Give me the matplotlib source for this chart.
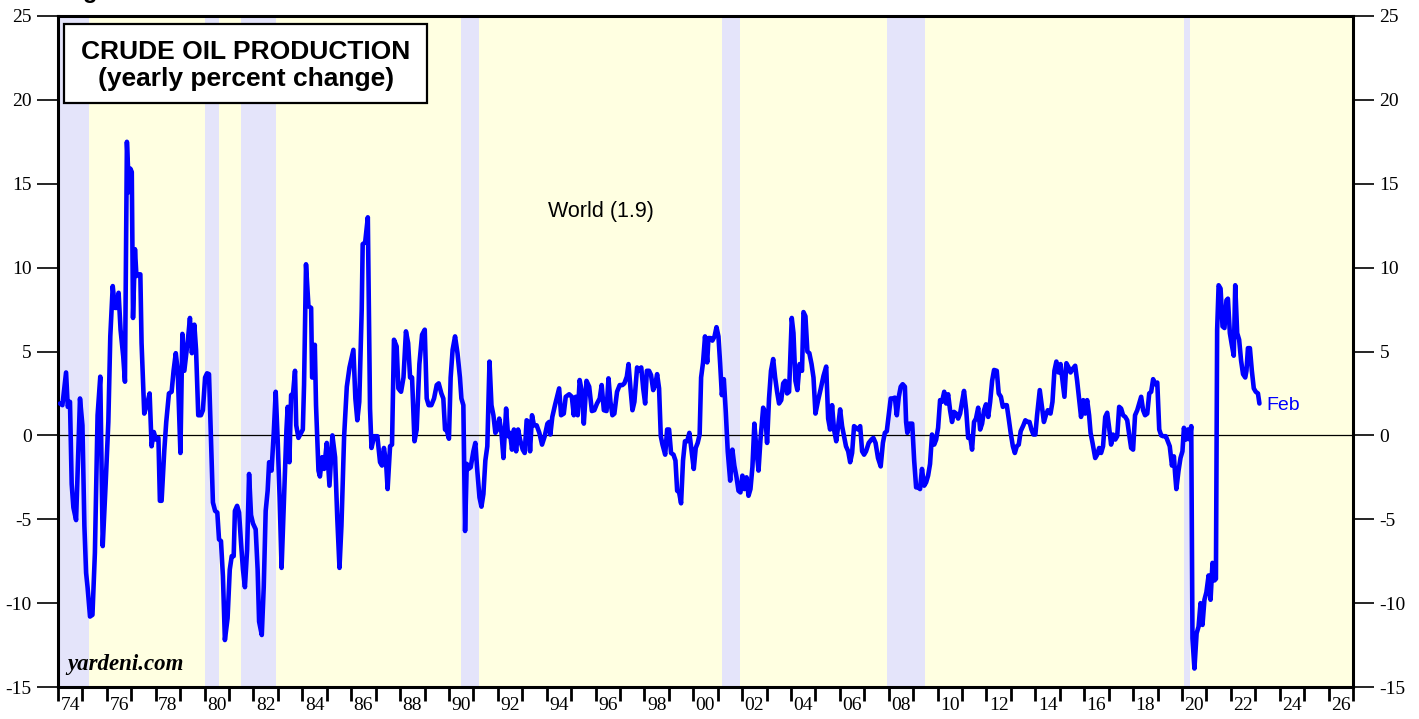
import matplotlib
matplotlib.use("Agg")
import matplotlib.pyplot as plt
from matplotlib.patches import Rectangle
from matplotlib.ticker import FixedLocator, NullFormatter

# ---------------- data (decimal years, yearly % change) ----------------
dates_70s = [1974.08, 1974.18, 1974.33, 1974.40, 1974.49, 1974.56, 1974.63, 1974.74, 1974.90, 1975.00,
             1975.08, 1975.15, 1975.21, 1975.31, 1975.41, 1975.51, 1975.62, 1975.73, 1975.83, 1975.95,
             1976.06, 1976.14, 1976.24, 1976.33, 1976.41, 1976.48, 1976.56, 1976.67, 1976.74, 1976.82,
             1976.91, 1976.96, 1977.02, 1977.07, 1977.15, 1977.21, 1977.26, 1977.37, 1977.42, 1977.53,
             1977.67, 1977.75, 1977.83, 1977.92, 1978.01, 1978.11, 1978.17, 1978.24, 1978.35, 1978.43,
             1978.54, 1978.65, 1978.73, 1978.82, 1978.90, 1979.01, 1979.09, 1979.17, 1979.25, 1979.33,
             1979.40, 1979.48, 1979.58, 1979.65, 1979.74, 1979.85, 1979.93]
values_70s = [1.9, 1.8, 3.75, 1.7, 2.0, -2.9, -4.3, -5.05, 2.2, 0.6,
              -5.4, -8.2, -9.05, -10.8, -10.7, -7.0, 1.2, 3.5, -6.6, -2.9,
              0.8, 5.9, 8.9, 7.6, 7.6, 8.5, 6.3, 4.7, 3.2, 17.5,
              14.5, 15.9, 15.7, 7.0, 11.1, 9.5, 9.6, 9.6, 5.5, 1.3,
              2.0, 2.5, -0.65, 0.2, -0.25, -0.15, -3.9, -3.9, -0.9, 0.8,
              2.5, 2.6, 3.85, 4.9, 3.85, -1.05, 6.05, 3.85, 4.9, 5.9,
              7.0, 4.9, 6.6, 5.1, 1.2, 1.2, 1.5]

dates_80s = [1980.02, 1980.10, 1980.18, 1980.26, 1980.34, 1980.43, 1980.52, 1980.59, 1980.67, 1980.75,
             1980.83, 1980.94, 1981.03, 1981.11, 1981.19, 1981.24, 1981.33, 1981.41, 1981.49, 1981.57,
             1981.65, 1981.74, 1981.82, 1981.90, 1981.98, 1982.09, 1982.17, 1982.23, 1982.34, 1982.42,
             1982.50, 1982.58, 1982.64, 1982.74, 1982.83, 1982.91, 1982.99, 1983.07, 1983.15, 1983.26,
             1983.35, 1983.40, 1983.47, 1983.54, 1983.62, 1983.70, 1983.75, 1983.84, 1983.95, 1984.02,
             1984.07, 1984.15, 1984.25, 1984.36, 1984.40, 1984.45, 1984.51, 1984.56, 1984.66, 1984.72,
             1984.81, 1984.89, 1985.00, 1985.11, 1985.23, 1985.34, 1985.43, 1985.52, 1985.60, 1985.71,
             1985.82, 1985.93, 1986.09, 1986.17, 1986.25, 1986.33, 1986.43, 1986.47, 1986.57, 1986.68,
             1986.77, 1986.83, 1986.94, 1987.07, 1987.18, 1987.26, 1987.34, 1987.43, 1987.49, 1987.59,
             1987.67, 1987.75, 1987.86, 1987.93, 1988.04, 1988.14, 1988.24, 1988.33, 1988.41, 1988.49,
             1988.59, 1988.68, 1988.79, 1988.90, 1989.01, 1989.09, 1989.17, 1989.28, 1989.39, 1989.50,
             1989.58, 1989.69, 1989.77, 1989.84, 1989.92]
values_80s = [3.45, 3.7, 3.65, -0.25, -4.0, -4.5, -4.6, -6.2, -6.3, -8.4,
              -12.2, -10.9, -8.0, -7.2, -7.2, -4.5, -4.2, -4.6, -6.4, -8.0,
              -9.05, -6.8, -2.3, -4.75, -5.25, -5.6, -8.0, -11.1, -11.9, -9.05,
              -4.5, -3.3, -1.6, -2.1, 0.15, 2.6, -0.25, -3.7, -7.9, -3.3,
              0.35, 1.7, -1.6, 2.4, 2.5, 3.85, 0.6, -0.15, 0.15, 0.35,
              3.0, 10.2, 7.7, 7.6, 3.45, 3.45, 5.4, 1.8, -2.1, -2.45,
              -1.3, -2.0, -0.45, -3.0, 0.0, -1.3, -4.95, -7.9, -5.4, -0.05,
              2.9, 4.05, 5.1, 2.2, 0.9, 2.0, 7.5, 11.4, 11.5, 13.0,
              1.6, -0.75, -0.05, -0.05, -1.6, -1.8, -0.75, -1.7, -3.2, -0.65,
              -0.55, 5.7, 5.3, 2.8, 2.6, 3.45, 6.2, 5.5, 3.45, 3.45,
              -0.35, 0.35, 4.25, 6.0, 6.3, 2.2, 1.8, 1.8, 2.2, 3.0,
              3.1, 2.5, 2.2, 0.35, 0.25]

dates_90s = [1990.00, 1990.07, 1990.15, 1990.25, 1990.35, 1990.45, 1990.51, 1990.59, 1990.66, 1990.73,
             1990.80, 1990.89, 1991.00, 1991.08, 1991.16, 1991.25, 1991.33, 1991.41, 1991.49, 1991.57,
             1991.66, 1991.74, 1991.82, 1991.90, 1991.98, 1992.06, 1992.15, 1992.23, 1992.34, 1992.42,
             1992.50, 1992.58, 1992.66, 1992.75, 1992.83, 1992.91, 1993.02, 1993.10, 1993.18, 1993.26,
             1993.32, 1993.40, 1993.48, 1993.59, 1993.70, 1993.81, 1993.92, 1994.03, 1994.10, 1994.15,
             1994.23, 1994.34, 1994.51, 1994.59, 1994.70, 1994.78, 1994.92, 1995.03, 1995.11, 1995.19,
             1995.27, 1995.35, 1995.44, 1995.52, 1995.63, 1995.74, 1995.85, 1995.95, 1996.06, 1996.17,
             1996.25, 1996.34, 1996.45, 1996.53, 1996.61, 1996.69, 1996.77, 1996.88, 1996.99, 1997.10,
             1997.18, 1997.28, 1997.35, 1997.43, 1997.51, 1997.59, 1997.70, 1997.78, 1997.87, 1997.95,
             1998.03, 1998.10, 1998.19, 1998.27, 1998.36, 1998.44, 1998.52, 1998.60, 1998.67, 1998.74,
             1998.85, 1998.93, 1999.01, 1999.09, 1999.19, 1999.27, 1999.34, 1999.42, 1999.50, 1999.58,
             1999.66, 1999.75, 1999.84, 1999.94]
values_90s = [-0.2, 3.45, 5.1, 5.9, 4.9, 3.45, 2.2, 1.8, -5.7, -1.7,
              -2.0, -1.9, -0.95, -0.45, -2.1, -3.7, -4.25, -3.5, -1.5, -0.65,
              4.4, 1.8, 1.2, 0.15, 0.35, 1.0, 0.15, -1.35, 1.6, -0.05,
              0.15, -0.85, 0.35, -0.95, 0.35, -0.25, -0.85, -1.05, 0.9, 0.8,
              -0.95, 1.2, 0.6, 0.6, 0.15, -0.55, -0.05, 0.7, 0.8, 0.05,
              1.1, 1.8, 2.8, 1.2, 1.3, 2.3, 2.45, 2.3, 1.2, 2.3,
              1.2, 3.3, 2.6, 0.7, 3.25, 2.9, 1.45, 1.5, 1.9, 2.2,
              3.0, 1.5, 1.45, 3.4, 2.0, 1.2, 1.3, 2.6, 3.0, 3.0,
              3.1, 3.5, 4.25, 2.8, 1.5, 2.0, 4.05, 3.85, 4.05, 2.8,
              1.9, 3.85, 3.85, 3.6, 2.7, 3.0, 3.65, 2.8, -0.05, -0.55,
              -1.15, 0.35, 0.35, -1.05, -1.15, -1.5, -3.3, -3.4, -4.05, -1.5,
              -0.35, -0.35, 0.15, -1.05]

dates_00s = [2000.02, 2000.10, 2000.18, 2000.26, 2000.32, 2000.40, 2000.48, 2000.57, 2000.62, 2000.70,
             2000.78, 2000.87, 2000.95, 2001.03, 2001.10, 2001.17, 2001.25, 2001.33, 2001.41, 2001.51,
             2001.60, 2001.68, 2001.77, 2001.85, 2001.93, 2002.01, 2002.09, 2002.18, 2002.26, 2002.34,
             2002.42, 2002.50, 2002.59, 2002.67, 2002.75, 2002.86, 2002.94, 2003.02, 2003.10, 2003.18,
             2003.27, 2003.35, 2003.43, 2003.51, 2003.60, 2003.68, 2003.76, 2003.84, 2003.92, 2004.03,
             2004.10, 2004.18, 2004.26, 2004.35, 2004.45, 2004.51, 2004.59, 2004.67, 2004.75, 2004.84,
             2004.92, 2005.00, 2005.11, 2005.22, 2005.33, 2005.44, 2005.52, 2005.60, 2005.68, 2005.76,
             2005.85, 2005.93, 2006.01, 2006.09, 2006.17, 2006.25, 2006.34, 2006.42, 2006.50, 2006.58,
             2006.66, 2006.74, 2006.83, 2006.91, 2006.99, 2007.07, 2007.18, 2007.29, 2007.37, 2007.46,
             2007.56, 2007.67, 2007.76, 2007.84, 2007.92, 2008.00, 2008.08, 2008.16, 2008.25, 2008.33,
             2008.41, 2008.49, 2008.57, 2008.66, 2008.71, 2008.76, 2008.85, 2008.96, 2009.04, 2009.12,
             2009.20, 2009.28, 2009.36, 2009.45, 2009.53, 2009.61, 2009.69, 2009.77, 2009.86, 2009.94]
values_00s = [-2.0, -0.75, -0.45, 0.05, 3.45, 4.35, 5.9, 4.35, 5.8, 5.8,
              5.65, 5.9, 6.45, 5.9, 4.25, 2.4, 3.35, 1.4, -0.95, -2.7,
              -0.85, -1.8, -2.5, -3.3, -3.4, -2.4, -3.2, -2.5, -3.6, -3.2,
              -1.9, 0.7, -0.95, -2.1, -0.25, 1.65, 1.4, -0.45, 2.2, 3.85,
              4.55, 3.45, 2.6, 1.9, 2.1, 3.1, 3.25, 2.5, 2.6, 7.0,
              6.1, 3.25, 2.7, 4.25, 3.85, 7.35, 7.1, 5.0, 4.9, 4.25,
              3.45, 1.3, 2.1, 2.8, 3.55, 4.1, 1.0, 0.35, 1.8, 0.35,
              -0.35, 0.55, 1.55, 0.55, -0.05, -0.65, -0.95, -1.6, -1.05, 0.55,
              0.45, 0.35, 0.55, -0.95, -1.15, -0.95, -0.45, -0.25, -0.15, -0.45,
              -1.35, -1.85, -0.45, 0.15, 0.25, 1.2, 2.2, 2.2, 2.25, 1.2,
              2.3, 2.9, 3.05, 2.9, 0.8, 0.15, 0.7, 0.7, -1.5, -3.1,
              -3.1, -3.2, -2.0, -3.0, -2.8, -2.4, -1.7, 0.05, -0.55, -0.25]

dates_10s = [2010.02, 2010.10, 2010.18, 2010.27, 2010.35, 2010.43, 2010.51, 2010.59, 2010.67, 2010.76,
             2010.84, 2010.92, 2011.00, 2011.08, 2011.17, 2011.25, 2011.33, 2011.41, 2011.49, 2011.57,
             2011.66, 2011.74, 2011.82, 2011.90, 2011.98, 2012.07, 2012.15, 2012.23, 2012.31, 2012.42,
             2012.50, 2012.59, 2012.67, 2012.75, 2012.83, 2012.91, 2012.99, 2013.08, 2013.16, 2013.24,
             2013.32, 2013.40, 2013.51, 2013.59, 2013.68, 2013.76, 2013.84, 2013.92, 2014.00, 2014.07,
             2014.18, 2014.26, 2014.35, 2014.43, 2014.51, 2014.62, 2014.70, 2014.78, 2014.86, 2014.95,
             2015.03, 2015.11, 2015.19, 2015.27, 2015.36, 2015.44, 2015.52, 2015.63, 2015.71, 2015.79,
             2015.87, 2015.96, 2016.04, 2016.12, 2016.20, 2016.26, 2016.34, 2016.45, 2016.53, 2016.61,
             2016.69, 2016.77, 2016.86, 2016.94, 2017.02, 2017.10, 2017.18, 2017.27, 2017.35, 2017.43,
             2017.51, 2017.59, 2017.68, 2017.76, 2017.84, 2017.92, 2018.00, 2018.08, 2018.17, 2018.25,
             2018.33, 2018.41, 2018.49, 2018.58, 2018.66, 2018.74, 2018.82, 2018.90, 2018.99, 2019.07,
             2019.15, 2019.23, 2019.34, 2019.42, 2019.50, 2019.59, 2019.67, 2019.72, 2019.77, 2019.86,
             2019.94]
values_10s = [0.45, 2.1, 2.0, 2.6, 1.9, 2.45, 1.5, 0.8, 1.4, 1.3,
              1.0, 1.3, 2.0, 2.65, 1.5, -0.15, -0.05, -0.85, 0.8, 1.0,
              1.65, 0.35, 0.7, 1.5, 1.85, 1.1, 2.0, 3.25, 3.9, 3.85,
              2.5, 2.3, 1.7, 1.8, 1.8, 1.0, 0.15, -0.65, -1.05, -0.65,
              -0.55, 0.25, 0.6, 0.9, 0.8, 0.8, 0.35, 0.05, 0.05, 1.2,
              2.7, 1.8, 0.8, 1.2, 1.5, 1.3, 2.0, 3.85, 4.4, 3.75,
              4.25, 3.25, 2.3, 4.3, 4.05, 3.75, 3.95, 4.15, 3.25, 2.2,
              1.1, 2.1, 1.3, 2.1, 1.2, 0.15, -0.45, -1.35, -1.15, -0.75,
              -1.05, -0.65, 1.1, 1.35, 0.45, -0.55, 0.05, -0.25, -0.05, 1.7,
              1.6, 1.2, 1.1, 0.9, 0.05, -0.75, -0.85, 1.2, 1.5, 1.9,
              2.3, 1.5, 1.2, 1.3, 2.5, 2.6, 3.35, 3.05, 3.15, 0.35,
              0.0, -0.05, -0.05, -0.35, -0.65, -1.8, -1.25, -2.3, -3.2, -2.1,
              -1.35]

dates_20s = [2020.02, 2020.08, 2020.16, 2020.24, 2020.32, 2020.38, 2020.43, 2020.51, 2020.60, 2020.68,
             2020.76, 2020.84, 2020.92, 2021.00, 2021.09, 2021.17, 2021.25, 2021.33, 2021.39, 2021.44,
             2021.50, 2021.58, 2021.66, 2021.74, 2021.82, 2021.88, 2021.96, 2022.04, 2022.12, 2022.18,
             2022.26, 2022.34, 2022.42, 2022.50, 2022.59, 2022.64, 2022.70, 2022.78, 2022.86, 2022.94,
             2023.02, 2023.11, 2023.17]
values_20s = [-0.95, 0.45, -0.25, 0.35, -0.25, 0.55, -12.1, -13.9, -11.8, -11.4,
              -10.0, -11.3, -9.8, -9.35, -8.35, -9.8, -7.6, -8.65, -8.55, 6.3,
              8.95, 8.75, 6.5, 6.4, 8.05, 8.15, 6.1, 5.4, 4.75, 8.95,
              6.1, 5.7, 4.45, 3.65, 3.45, 3.85, 5.2, 5.2, 3.85, 2.8,
              2.6, 2.5, 1.9]

recession_starts = [1973.83, 1980.0, 1981.5, 1990.5, 2001.17, 2007.92, 2020.08]
recession_ends = [1975.25, 1980.58, 1982.92, 1991.25, 2001.92, 2009.5, 2020.33]

year_ticks = list(range(1974, 2028))
label_years = list(range(1974, 2027, 2))
tick_labels = [f"{y % 100:02d}" for y in label_years]
y_ticks = [-15, -10, -5, 0, 5, 10, 15, 20, 25]

title_lines = ["CRUDE OIL PRODUCTION", "(yearly percent change)"]
series_label = "World (1.9)"
end_label = "Feb"
source_label = "yardeni.com"
figure_label = "Figure 1."

# ---------------- plot ----------------
dates = dates_70s + dates_80s + dates_90s + dates_00s + dates_10s + dates_20s
values = values_70s + values_80s + values_90s + values_00s + values_10s + values_20s

SANS = ["Liberation Sans", "DejaVu Sans"]
SERIF = ["Liberation Serif", "DejaVu Serif"]

fig = plt.figure(figsize=(14.19, 7.19), dpi=100)
fig.patch.set_facecolor("white")
ax = fig.add_axes([58 / 1419, 32 / 719, 1295 / 1419, 671 / 719])
ax.set_xlim(1974, 2027)
ax.set_ylim(-15, 25)
ax.set_facecolor("#FFFFE1")

for s, e in zip(recession_starts, recession_ends):
    ax.axvspan(max(s, 1974), e, color="#E4E4FA", lw=0, zorder=0.5)

ax.axhline(0, color="black", lw=0.9, zorder=1)
ax.plot(dates, values, color="#0000FF", lw=3.3, solid_joinstyle="round",
        solid_capstyle="round", zorder=3)

# x axis: ticks every year, labels centred in even years
ax.xaxis.set_major_locator(FixedLocator(year_ticks))
ax.xaxis.set_major_formatter(NullFormatter())
ax.xaxis.set_minor_locator(FixedLocator([y + 0.5 for y in label_years]))
ax.set_xticklabels(tick_labels, minor=True)
ax.tick_params(axis="x", which="major", direction="out", length=10, width=2, color="black")
ax.tick_params(axis="x", which="minor", length=0, pad=7, labelsize=14)
for lab in ax.get_xticklabels(minor=True):
    lab.set_fontfamily(SERIF)

ax.set_yticks(y_ticks)
ax.set_yticklabels([str(v) for v in y_ticks])
ax.tick_params(axis="y", which="major", direction="out", length=15, width=1.2,
               left=True, right=True, labelleft=True, labelright=True,
               labelsize=14, pad=4)
for t in ax.yaxis.get_major_ticks():
    t.label1.set_fontfamily(SERIF)
    t.label2.set_fontfamily(SERIF)

for sp in ax.spines.values():
    sp.set_linewidth(2.2)
    sp.set_color("black")

# title box
ax.add_patch(Rectangle((0.0046, 0.870), 0.2804, 0.118, transform=ax.transAxes,
                       facecolor="white", edgecolor="black", lw=1.6, zorder=5))
ax.text(0.145, 0.947, title_lines[0], transform=ax.transAxes, ha="center", va="center",
        fontsize=19, fontweight="bold", family=SANS, zorder=6)
ax.text(0.145, 0.906, title_lines[1], transform=ax.transAxes, ha="center", va="center",
        fontsize=19, fontweight="bold", family=SANS, zorder=6)

ax.text(1994.06, 13.35, series_label, ha="left", va="center", fontsize=15.5,
        family=SANS, color="black", zorder=6)
ax.text(dates[-1] + 0.3, values[-1] - 0.1, end_label, ha="left", va="center", fontsize=14,
        family=SANS, color="#0000FF", zorder=6)
ax.text(0.0075, 0.018, source_label, transform=ax.transAxes, ha="left", va="bottom",
        fontsize=16.5, fontweight="bold", fontstyle="italic", family=SERIF, zorder=6)

# figure caption mostly cropped above the top edge, as in the source image
fig.text(62 / 1419, 1 + 1.5 / 719, figure_label, ha="left", va="baseline",
         fontsize=17, fontweight="bold", family=SANS)

fig.savefig("out.png", dpi=100, facecolor="white")
